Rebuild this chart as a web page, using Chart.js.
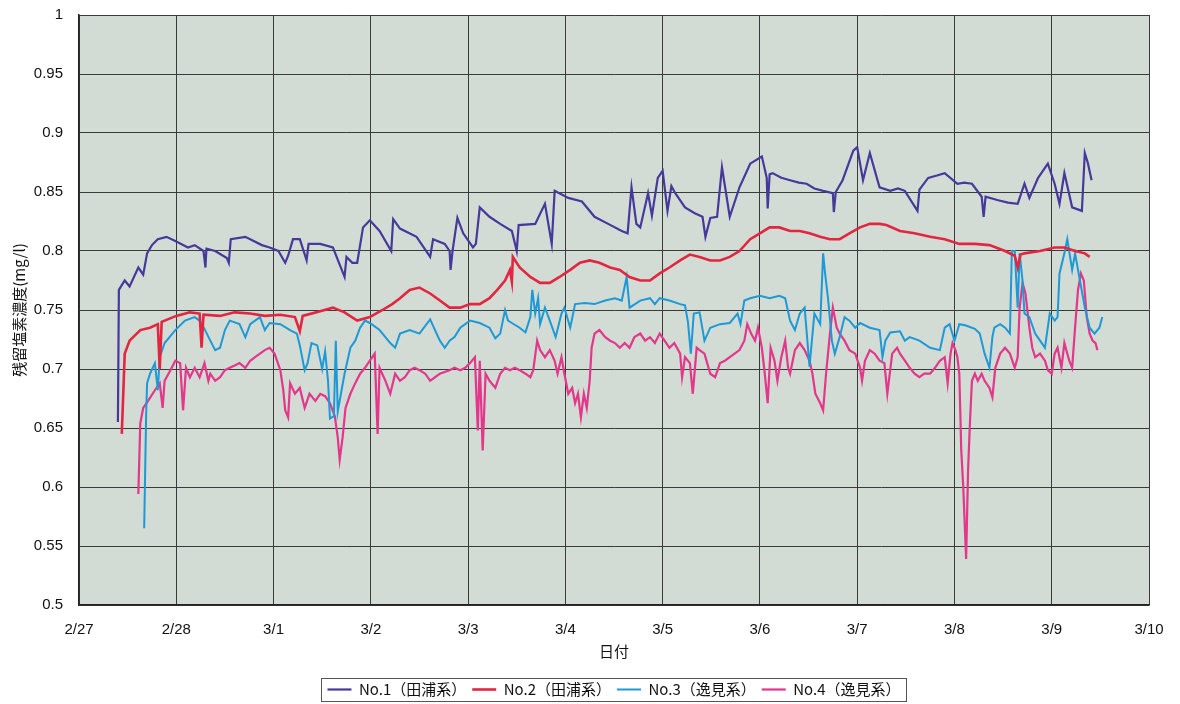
<!DOCTYPE html>
<html>
<head>
<meta charset="utf-8">
<script src="https://cdn.jsdelivr.net/npm/chart.js@4/dist/chart.umd.min.js"></script>
<style>
  html, body { margin: 0; padding: 0; background: #fff; }
  #wrap { width: 1180px; height: 704px; }
</style>
</head>
<body>
<div id="wrap"><canvas id="grafico" width="1180" height="704"></canvas></div>
<script>
// fechas del eje x (dias desde 2/27)
const etiquetasFecha = ['2/27', '2/28', '3/1', '3/2', '3/3', '3/4', '3/5', '3/6', '3/7', '3/8', '3/9', '3/10'];
const etiquetasY = ['0.5', '0.55', '0.6', '0.65', '0.7', '0.75', '0.8', '0.85', '0.9', '0.95', '1'];
const nombres = ['No.1（田浦系）', 'No.2（田浦系）', 'No.3（逸見系）', 'No.4（逸見系）'];
const colores = ['#46399a', '#e3263f', '#1d99d6', '#e2378a'];
const grosores = [2.2, 2.6, 2, 2.2];

// [dia, mg/l]
const no1 = [[0.40,0.655],[0.41,0.767],[0.47,0.775],[0.52,0.770],[0.61,0.786],[0.66,0.780],[0.70,0.798],[0.75,0.805],[0.81,0.810],[0.90,0.812],[1.00,0.808],[1.12,0.803],[1.19,0.805],[1.28,0.800],[1.30,0.786],[1.31,0.802],[1.40,0.800],[1.52,0.794],[1.54,0.790],[1.56,0.810],[1.71,0.812],[1.88,0.805],[1.96,0.803],[2.05,0.800],[2.12,0.790],[2.15,0.796],[2.20,0.810],[2.27,0.810],[2.34,0.792],[2.36,0.806],[2.48,0.806],[2.61,0.803],[2.73,0.778],[2.75,0.795],[2.81,0.790],[2.86,0.790],[2.92,0.820],[2.99,0.826],[3.09,0.817],[3.21,0.800],[3.23,0.827],[3.30,0.819],[3.47,0.812],[3.61,0.795],[3.64,0.810],[3.76,0.806],[3.81,0.800],[3.82,0.784],[3.84,0.800],[3.89,0.828],[3.95,0.815],[4.05,0.803],[4.08,0.806],[4.12,0.837],[4.22,0.829],[4.33,0.823],[4.45,0.817],[4.50,0.800],[4.52,0.822],[4.69,0.823],[4.79,0.840],[4.86,0.806],[4.89,0.851],[5.03,0.845],[5.17,0.842],[5.30,0.829],[5.44,0.823],[5.58,0.817],[5.64,0.815],[5.68,0.854],[5.73,0.823],[5.77,0.820],[5.85,0.849],[5.89,0.830],[5.95,0.862],[6.00,0.868],[6.05,0.834],[6.09,0.855],[6.13,0.849],[6.23,0.837],[6.33,0.832],[6.41,0.829],[6.44,0.812],[6.49,0.828],[6.56,0.829],[6.61,0.871],[6.69,0.829],[6.79,0.854],[6.90,0.874],[7.02,0.880],[7.07,0.862],[7.08,0.836],[7.10,0.865],[7.13,0.866],[7.22,0.862],[7.31,0.860],[7.40,0.858],[7.48,0.857],[7.56,0.853],[7.65,0.851],[7.75,0.849],[7.76,0.833],[7.78,0.850],[7.85,0.860],[7.96,0.885],[8.00,0.888],[8.06,0.860],[8.13,0.883],[8.23,0.854],[8.34,0.851],[8.42,0.853],[8.49,0.851],[8.62,0.834],[8.64,0.852],[8.73,0.862],[8.82,0.864],[8.90,0.866],[9.03,0.857],[9.10,0.858],[9.18,0.857],[9.28,0.846],[9.30,0.829],[9.32,0.846],[9.45,0.843],[9.55,0.841],[9.65,0.840],[9.72,0.857],[9.77,0.845],[9.86,0.862],[9.96,0.874],[10.03,0.857],[10.08,0.840],[10.13,0.866],[10.21,0.837],[10.31,0.834],[10.34,0.883],[10.37,0.875],[10.41,0.860]];

const no2 = [[0.44,0.645],[0.47,0.713],[0.52,0.724],[0.63,0.733],[0.73,0.735],[0.81,0.738],[0.83,0.700],[0.85,0.740],[1.00,0.745],[1.14,0.748],[1.24,0.747],[1.26,0.718],[1.28,0.746],[1.45,0.745],[1.60,0.748],[1.76,0.747],[1.91,0.745],[2.07,0.746],[2.22,0.744],[2.27,0.732],[2.30,0.745],[2.48,0.749],[2.61,0.752],[2.73,0.748],[2.86,0.741],[2.99,0.744],[3.12,0.750],[3.22,0.755],[3.30,0.760],[3.40,0.767],[3.50,0.769],[3.61,0.764],[3.71,0.758],[3.81,0.752],[3.92,0.752],[4.02,0.755],[4.12,0.755],[4.22,0.760],[4.30,0.767],[4.38,0.775],[4.43,0.784],[4.45,0.774],[4.46,0.795],[4.53,0.786],[4.64,0.778],[4.74,0.773],[4.84,0.773],[4.94,0.778],[5.05,0.784],[5.15,0.790],[5.25,0.792],[5.35,0.790],[5.46,0.786],[5.56,0.784],[5.66,0.778],[5.77,0.775],[5.87,0.775],[5.97,0.781],[6.07,0.786],[6.18,0.792],[6.28,0.797],[6.38,0.795],[6.49,0.792],[6.59,0.792],[6.69,0.795],[6.79,0.800],[6.90,0.810],[7.00,0.815],[7.10,0.820],[7.20,0.820],[7.31,0.817],[7.41,0.817],[7.51,0.815],[7.62,0.812],[7.72,0.810],[7.82,0.810],[7.92,0.815],[8.03,0.820],[8.13,0.823],[8.23,0.823],[8.30,0.822],[8.44,0.817],[8.59,0.815],[8.75,0.812],[8.90,0.810],[9.05,0.806],[9.21,0.806],[9.36,0.805],[9.52,0.800],[9.62,0.796],[9.65,0.786],[9.68,0.797],[9.72,0.798],[9.88,0.800],[10.03,0.803],[10.13,0.803],[10.24,0.800],[10.34,0.798],[10.39,0.795]];

const no3 = [[0.67,0.565],[0.69,0.660],[0.70,0.688],[0.73,0.696],[0.78,0.705],[0.81,0.682],[0.83,0.710],[0.88,0.722],[0.99,0.733],[1.09,0.741],[1.19,0.744],[1.24,0.741],[1.29,0.734],[1.35,0.724],[1.40,0.716],[1.45,0.718],[1.50,0.733],[1.55,0.741],[1.65,0.738],[1.71,0.727],[1.76,0.738],[1.86,0.744],[1.91,0.733],[1.96,0.739],[2.07,0.738],[2.17,0.733],[2.24,0.730],[2.27,0.720],[2.32,0.699],[2.35,0.705],[2.39,0.722],[2.45,0.720],[2.50,0.700],[2.53,0.715],[2.56,0.690],[2.58,0.658],[2.62,0.660],[2.64,0.724],[2.66,0.664],[2.73,0.696],[2.79,0.718],[2.84,0.724],[2.89,0.735],[2.94,0.741],[2.99,0.739],[3.09,0.733],[3.20,0.722],[3.25,0.718],[3.30,0.730],[3.40,0.733],[3.50,0.730],[3.61,0.742],[3.66,0.733],[3.71,0.724],[3.76,0.718],[3.81,0.724],[3.86,0.727],[3.92,0.735],[4.02,0.741],[4.12,0.739],[4.22,0.735],[4.28,0.726],[4.33,0.730],[4.38,0.750],[4.41,0.741],[4.45,0.739],[4.53,0.735],[4.59,0.731],[4.64,0.744],[4.66,0.767],[4.69,0.747],[4.72,0.760],[4.74,0.738],[4.79,0.752],[4.84,0.741],[4.90,0.727],[4.96,0.747],[4.99,0.752],[5.05,0.735],[5.10,0.755],[5.20,0.756],[5.30,0.755],[5.41,0.758],[5.51,0.760],[5.58,0.758],[5.63,0.778],[5.66,0.752],[5.77,0.758],[5.87,0.760],[5.92,0.755],[5.97,0.760],[6.07,0.758],[6.18,0.755],[6.23,0.754],[6.26,0.740],[6.29,0.713],[6.32,0.747],[6.38,0.748],[6.43,0.724],[6.49,0.735],[6.59,0.738],[6.69,0.739],[6.77,0.747],[6.80,0.738],[6.84,0.758],[6.90,0.760],[7.00,0.762],[7.10,0.760],[7.20,0.762],[7.26,0.760],[7.31,0.741],[7.36,0.733],[7.41,0.747],[7.46,0.752],[7.51,0.702],[7.56,0.747],[7.62,0.738],[7.65,0.798],[7.67,0.781],[7.70,0.760],[7.74,0.724],[7.77,0.713],[7.82,0.727],[7.87,0.744],[7.92,0.741],[7.98,0.735],[8.03,0.739],[8.13,0.735],[8.23,0.733],[8.26,0.710],[8.29,0.724],[8.34,0.731],[8.44,0.732],[8.49,0.724],[8.54,0.727],[8.64,0.724],[8.75,0.718],[8.85,0.716],[8.90,0.735],[8.95,0.738],[9.00,0.724],[9.05,0.738],[9.11,0.737],[9.21,0.734],[9.26,0.730],[9.31,0.713],[9.36,0.701],[9.39,0.727],[9.41,0.735],[9.47,0.738],[9.52,0.735],[9.57,0.730],[9.59,0.800],[9.62,0.800],[9.65,0.752],[9.67,0.798],[9.70,0.775],[9.72,0.747],[9.77,0.744],[9.83,0.730],[9.88,0.724],[9.93,0.718],[9.98,0.747],[10.03,0.741],[10.06,0.744],[10.08,0.781],[10.13,0.798],[10.16,0.810],[10.21,0.784],[10.24,0.798],[10.29,0.775],[10.34,0.752],[10.39,0.735],[10.44,0.730],[10.49,0.735],[10.52,0.744]];

const no4 = [[0.61,0.594],[0.63,0.654],[0.66,0.667],[0.71,0.673],[0.78,0.682],[0.83,0.688],[0.86,0.667],[0.88,0.690],[0.94,0.699],[0.99,0.707],[1.04,0.705],[1.07,0.665],[1.10,0.701],[1.14,0.693],[1.19,0.701],[1.24,0.693],[1.29,0.705],[1.33,0.690],[1.35,0.696],[1.40,0.690],[1.45,0.693],[1.50,0.699],[1.55,0.701],[1.60,0.703],[1.65,0.705],[1.71,0.701],[1.76,0.707],[1.81,0.710],[1.86,0.713],[1.91,0.716],[1.96,0.718],[2.01,0.713],[2.07,0.699],[2.10,0.682],[2.12,0.665],[2.15,0.659],[2.17,0.688],[2.22,0.679],[2.27,0.684],[2.32,0.667],[2.37,0.679],[2.43,0.673],[2.48,0.679],[2.53,0.677],[2.58,0.671],[2.63,0.660],[2.66,0.642],[2.68,0.623],[2.71,0.642],[2.74,0.667],[2.79,0.679],[2.84,0.688],[2.89,0.696],[2.94,0.701],[2.99,0.707],[3.04,0.713],[3.07,0.645],[3.09,0.701],[3.15,0.690],[3.20,0.679],[3.25,0.696],[3.30,0.690],[3.35,0.693],[3.40,0.699],[3.45,0.701],[3.50,0.699],[3.56,0.696],[3.61,0.690],[3.66,0.693],[3.71,0.696],[3.81,0.699],[3.86,0.701],[3.92,0.699],[3.97,0.701],[4.02,0.705],[4.07,0.710],[4.10,0.648],[4.12,0.707],[4.15,0.631],[4.18,0.696],[4.22,0.690],[4.28,0.684],[4.33,0.696],[4.38,0.701],[4.43,0.699],[4.48,0.701],[4.53,0.699],[4.59,0.696],[4.64,0.693],[4.67,0.699],[4.71,0.724],[4.74,0.716],[4.79,0.710],[4.84,0.716],[4.89,0.707],[4.92,0.696],[4.96,0.710],[4.99,0.696],[5.03,0.679],[5.07,0.684],[5.10,0.671],[5.13,0.679],[5.16,0.659],[5.19,0.679],[5.22,0.667],[5.25,0.690],[5.27,0.718],[5.30,0.730],[5.35,0.733],[5.41,0.727],[5.46,0.724],[5.51,0.722],[5.56,0.718],[5.61,0.722],[5.66,0.718],[5.71,0.727],[5.77,0.730],[5.82,0.724],[5.87,0.727],[5.92,0.722],[5.97,0.730],[6.02,0.724],[6.07,0.718],[6.12,0.722],[6.18,0.713],[6.20,0.693],[6.23,0.710],[6.28,0.705],[6.31,0.679],[6.35,0.718],[6.38,0.716],[6.43,0.713],[6.49,0.696],[6.54,0.693],[6.59,0.705],[6.64,0.707],[6.69,0.710],[6.74,0.713],[6.79,0.716],[6.84,0.724],[6.87,0.738],[6.91,0.730],[6.95,0.724],[6.98,0.735],[7.02,0.718],[7.05,0.696],[7.08,0.671],[7.11,0.718],[7.15,0.707],[7.18,0.690],[7.22,0.710],[7.26,0.724],[7.29,0.701],[7.31,0.696],[7.36,0.716],[7.41,0.722],[7.46,0.716],[7.51,0.707],[7.54,0.696],[7.57,0.679],[7.62,0.671],[7.65,0.665],[7.68,0.696],[7.72,0.730],[7.75,0.752],[7.79,0.735],[7.82,0.730],[7.87,0.724],[7.92,0.716],[7.98,0.713],[8.03,0.701],[8.05,0.690],[8.08,0.707],[8.13,0.716],[8.18,0.713],[8.23,0.707],[8.28,0.705],[8.31,0.679],[8.36,0.713],[8.41,0.718],[8.44,0.713],[8.49,0.707],[8.54,0.701],[8.59,0.696],[8.64,0.693],[8.69,0.696],[8.75,0.696],[8.80,0.701],[8.85,0.707],[8.90,0.710],[8.93,0.688],[8.96,0.713],[8.98,0.722],[9.01,0.716],[9.03,0.710],[9.05,0.696],[9.07,0.631],[9.09,0.601],[9.12,0.539],[9.14,0.614],[9.16,0.656],[9.18,0.690],[9.21,0.696],[9.24,0.690],[9.28,0.696],[9.31,0.690],[9.36,0.684],[9.39,0.676],[9.42,0.701],[9.47,0.713],[9.52,0.718],[9.57,0.713],[9.62,0.701],[9.65,0.710],[9.67,0.752],[9.70,0.773],[9.73,0.764],[9.77,0.735],[9.80,0.718],[9.83,0.710],[9.88,0.713],[9.93,0.707],[9.96,0.699],[10.00,0.696],[10.03,0.713],[10.06,0.718],[10.10,0.701],[10.13,0.722],[10.18,0.707],[10.21,0.701],[10.24,0.735],[10.27,0.767],[10.30,0.781],[10.33,0.775],[10.36,0.744],[10.39,0.730],[10.42,0.724],[10.45,0.722],[10.47,0.716]];

const series = [no1, no2, no3, no4];

// fondo gris del area de trazado
const fondoArea = {
    id: 'fondoArea',
    beforeDraw(chart) {
        const { ctx, chartArea: a } = chart;
        ctx.save();
        ctx.fillStyle = '#d3dbd5';
        ctx.fillRect(a.left, a.top, a.right - a.left, a.bottom - a.top);
        ctx.restore();
    }
};

// marco alrededor de la leyenda
const marcoLeyenda = {
    id: 'marcoLeyenda',
    afterDraw(chart) {
        const cajas = chart.legend.legendHitBoxes;
        if (!cajas || !cajas.length) return;
        const izq = Math.min(...cajas.map(c => c.left)) - 6;
        const der = Math.max(...cajas.map(c => c.left + c.width)) + 6;
        const arr = Math.min(...cajas.map(c => c.top)) - 4;
        const aba = Math.max(...cajas.map(c => c.top + c.height)) + 4;
        const ctx = chart.ctx;
        ctx.save();
        ctx.strokeStyle = '#555';
        ctx.lineWidth = 1;
        ctx.strokeRect(Math.round(izq) + 0.5, Math.round(arr) + 0.5, Math.round(der - izq), Math.round(aba - arr));
        ctx.restore();
    }
};

const fuenteNum = "'Liberation Sans', Arial, sans-serif";
const fuenteJp = "'Noto Sans CJK JP', sans-serif";

new Chart(document.getElementById('grafico'), {
    type: 'line',
    data: {
        datasets: series.map((s, i) => ({
            label: nombres[i],
            data: s.map(p => ({ x: p[0], y: p[1] })),
            borderColor: colores[i],
            backgroundColor: colores[i],
            borderWidth: grosores[i],
            pointRadius: 0,
            pointStyle: 'line',
            tension: 0,
            fill: false
        }))
    },
    options: {
        responsive: false,
        animation: false,
        layout: { padding: { top: 15, right: 31, left: 0, bottom: -3 } },
        plugins: {
            tooltip: { enabled: false },
            legend: {
                position: 'bottom',
                fullSize: false,
                labels: {
                    usePointStyle: true,
                    pointStyleWidth: 24,
                    padding: 6,
                    color: '#111',
                    font: { family: fuenteJp, size: 15 }
                }
            }
        },
        scales: {
            x: {
                type: 'linear',
                min: 0,
                max: 11,
                afterFit: s => { s.height = 71; },
                ticks: {
                    stepSize: 1,
                    padding: 16,
                    color: '#111',
                    font: { family: fuenteNum, size: 15 },
                    callback: v => etiquetasFecha[Math.round(v)]
                },
                grid: { color: '#3a3a3a', lineWidth: 1, drawTicks: false },
                border: { color: '#222', width: 1.5 },
                title: {
                    display: true,
                    text: '日付',
                    color: '#111',
                    font: { family: fuenteJp, size: 15 },
                    padding: { top: 0, bottom: 16 }
                }
            },
            y: {
                min: 0.5,
                max: 1,
                afterFit: s => { s.width = 79; s.paddingTop = 0; s.paddingBottom = 0; },
                ticks: {
                    stepSize: 0.05,
                    padding: 16,
                    color: '#111',
                    font: { family: fuenteNum, size: 15 },
                    callback: (v, i) => etiquetasY[i]
                },
                grid: { color: '#3a3a3a', lineWidth: 1, drawTicks: false },
                border: { color: '#222', width: 1.5 },
                title: {
                    display: true,
                    text: '残留塩素濃度(mg/l)',
                    color: '#111',
                    font: { family: fuenteJp, size: 15 },
                    padding: { top: 10, bottom: 4 }
                }
            }
        }
    },
    plugins: [fondoArea, marcoLeyenda]
});
</script>
</body>
</html>
